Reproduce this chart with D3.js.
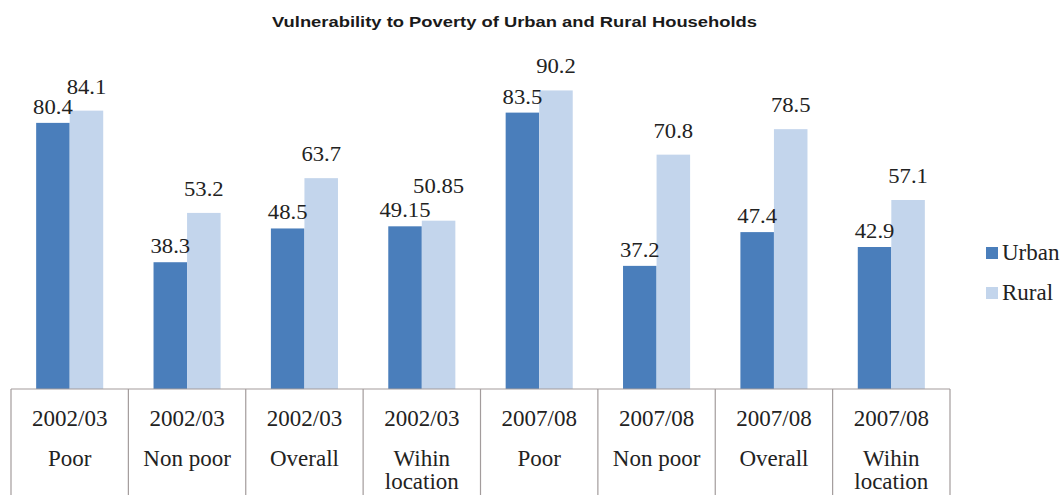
<!DOCTYPE html>
<html>
<head>
<meta charset="utf-8">
<script src="https://cdn.jsdelivr.net/npm/d3@7"></script>
<style>
  body { margin: 0; background: #fff; }
  .serif { font-family: "Liberation Serif", "DejaVu Serif", "Times New Roman", Times, serif; }
</style>
</head>
<body>
<div id="chart"></div>
<script>
const periods = ["2002/03", "2002/03", "2002/03", "2002/03", "2007/08", "2007/08", "2007/08", "2007/08"];
const groups = [["Poor"], ["Non poor"], ["Overall"], ["Wihin", "location"], ["Poor"], ["Non poor"], ["Overall"], ["Wihin", "location"]];
const urban = [80.4, 38.3, 48.5, 49.15, 83.5, 37.2, 47.4, 42.9];
const rural = [84.1, 53.2, 63.7, 50.85, 90.2, 70.8, 78.5, 57.1];
const seriesNames = ["Urban", "Rural"];
const seriesColors = ["#4a7ebb", "#c3d5ec"];
const labelGap = [9, 17];

const width = 1064, height = 495;
const left = 11, right = 950, baseY = 389;

const svg = d3.select("#chart")
    .append("svg")
    .attr("width", width)
    .attr("height", height);

svg.append("text")
    .attr("x", 272)
    .attr("y", 27)
    .attr("textLength", 485)
    .attr("lengthAdjust", "spacingAndGlyphs")
    .attr("font-family", "Liberation Sans, Arial, sans-serif")
    .attr("font-weight", "bold")
    .attr("font-size", 14)
    .attr("fill", "#1a1a1a")
    .text("Vulnerability to Poverty of Urban and Rural Households");

const idx = d3.range(periods.length);

const x = d3.scaleBand()
    .domain(idx)
    .range([left, right]);

const x1 = d3.scaleBand()
    .domain(seriesNames)
    .range([0, x.bandwidth()])
    .paddingOuter(0.75);

const y = d3.scaleLinear()
    .domain([0, 100])
    .range([baseY, 58]);

const rows = idx.map(i => ({ i, values: [urban[i], rural[i]] }));

const groupSel = svg.append("g").selectAll("g")
    .data(rows)
    .join("g")
    .attr("transform", d => `translate(${x(d.i)},0)`);

groupSel.selectAll("rect")
    .data(d => d.values.map((v, k) => ({ v, k })))
    .join("rect")
    .attr("x", d => x1(seriesNames[d.k]))
    .attr("y", d => y(d.v))
    .attr("width", x1.bandwidth())
    .attr("height", d => baseY - y(d.v))
    .attr("fill", d => seriesColors[d.k]);

// value labels; push the rural label up when the pair would collide
function labelY(d) {
    const own = y(d.values[0]) - labelGap[0];
    let other = y(d.values[1]) - labelGap[1];
    if (own - other < 18) other = own - 24;
    return [own, other];
}

groupSel.selectAll("text.val")
    .data(d => { const ly = labelY(d); return d.values.map((v, k) => ({ v, k, ly: ly[k] })); })
    .join("text")
    .attr("class", "val serif")
    .attr("transform", d => `translate(${x1(seriesNames[d.k]) + x1.bandwidth() / 2},${d.ly}) scale(1.08,1)`)
    .attr("text-anchor", "middle")
    .attr("font-size", 21)
    .attr("fill", "#222")
    .text(d => d.v);

// category table below the bars
const table = svg.append("g").attr("stroke", "#a39c9c").attr("stroke-width", 1.2);
table.append("line")
    .attr("x1", left).attr("x2", right)
    .attr("y1", baseY).attr("y2", baseY);
idx.concat([idx.length]).forEach(i => {
    const xx = i < idx.length ? x(i) : right;
    table.append("line")
        .attr("x1", xx).attr("x2", xx)
        .attr("y1", baseY).attr("y2", height);
});

const cat = svg.append("g").selectAll("g")
    .data(idx)
    .join("g")
    .attr("class", "serif")
    .attr("transform", i => `translate(${x(i) + x.bandwidth() / 2},0)`)
    .attr("font-size", 23)
    .attr("fill", "#222")
    .attr("text-anchor", "middle");

cat.append("text")
    .attr("y", 426)
    .text(i => periods[i]);

cat.each(function(i) {
    groups[i].forEach((line, j) => {
        d3.select(this).append("text")
            .attr("y", 466 + j * 23)
            .text(line);
    });
});

// legend
const legend = svg.append("g").attr("transform", "translate(986, 247)");
seriesNames.forEach((name, k) => {
    const row = legend.append("g").attr("transform", `translate(0, ${k * 40})`);
    row.append("rect")
        .attr("width", 12)
        .attr("height", 12)
        .attr("fill", seriesColors[k]);
    row.append("text")
        .attr("class", "serif")
        .attr("x", 16)
        .attr("y", 13)
        .attr("font-size", 23)
        .attr("fill", "#222")
        .text(name);
});
</script>
</body>
</html>
